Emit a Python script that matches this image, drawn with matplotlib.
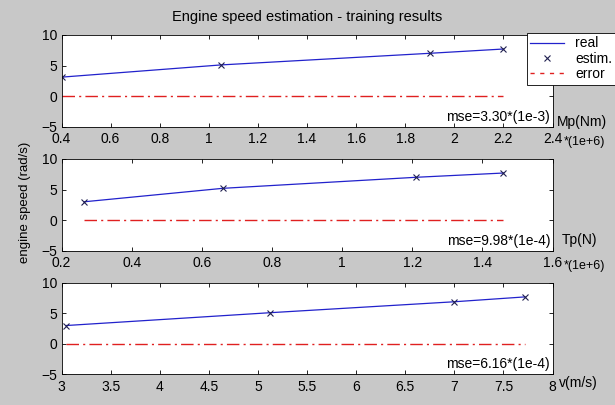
import numpy as np
import matplotlib
matplotlib.use("Agg")
import matplotlib.pyplot as plt
from matplotlib.lines import Line2D

plt.rcParams['font.family'] = ['Liberation Sans', 'DejaVu Sans']
plt.rcParams['font.size'] = 10

# datos
mp_x = [0.4, 1.05, 1.9, 2.2]
mp_y = [3.1, 5.1, 7.0, 7.7]
tp_x = [0.265, 0.66, 1.21, 1.46]
tp_y = [3.0, 5.2, 7.0, 7.7]
v_x = [3.05, 5.12, 7.0, 7.72]
v_y = [3.0, 5.1, 6.9, 7.7]
err = [0.0, 0.0, 0.0, 0.0]

mse_txt = ["mse=3.30*(1e-3)", "mse=9.98*(1e-4)", "mse=6.16*(1e-4)"]
xlab = ["Mp(Nm)", "Tp(N)", "v(m/s)"]
xlims = [(0.4, 2.4), (0.2, 1.6), (3, 8)]
xticks = [np.arange(0.4, 2.41, 0.2), np.arange(0.2, 1.61, 0.2), np.arange(3, 8.01, 0.5)]

bg = "#c8c8c8"
azul = "#2222cc"
rojo = "#e02020"
fig = plt.figure(figsize=(6.15, 4.05), dpi=100, facecolor=bg)

pos = [[0.100, 0.6872, 0.7984, 0.2265],
       [0.100, 0.3810, 0.7984, 0.2265],
       [0.100, 0.0760, 0.7984, 0.2255]]
datos = [(mp_x, mp_y), (tp_x, tp_y), (v_x, v_y)]

axs = []
for i in range(3):
    ax = fig.add_axes(pos[i])
    x, y = datos[i]
    l1, = ax.plot(x, y, color=azul, lw=0.9, label="real")
    l2, = ax.plot(x, y, "x", color="#202050", ms=4, mew=0.8, label="estim.")
    ax.plot(x, err, color=rojo, lw=1.0, ls=(0, (9, 3, 1.5, 3)))
    ax.set_xlim(xlims[i])
    ax.set_ylim(-5, 10)
    ax.set_yticks([-5, 0, 5, 10])
    ax.set_xticks(xticks[i])
    ax.set_xticklabels(["%g" % t for t in np.round(xticks[i], 2)])
    ax.tick_params(direction="in", top=True, right=True, length=3, width=0.6)
    ax.tick_params(axis="x", pad=4)
    ax.tick_params(axis="y", pad=3)
    for s in ax.spines.values():
        s.set_linewidth(0.6)
    ax.text(0.995, 0.03, mse_txt[i], transform=ax.transAxes, ha="right", va="bottom")
    axs.append(ax)

axs[0].text(1.008, 0.05, xlab[0], transform=axs[0].transAxes, ha="left", va="center")
axs[1].text(1.018, 0.12, xlab[1], transform=axs[1].transAxes, ha="left", va="center")
axs[2].text(1.014, -0.10, xlab[2], transform=axs[2].transAxes, ha="left", va="center")
axs[0].text(1.022, -0.165, "*(1e+6)", transform=axs[0].transAxes, ha="left", va="center", fontsize=9)
axs[1].text(1.022, -0.165, "*(1e+6)", transform=axs[1].transAxes, ha="left", va="center", fontsize=9)

# leyenda
h3 = Line2D([], [], color=rojo, lw=1.0, ls=(0, (3, 4)))
leg = fig.legend([l1, l2, h3], ["real", "estim.", "error"], loc="upper left",
                 bbox_to_anchor=(527 / 615, 1 - 33 / 405), frameon=True,
                 fancybox=False, edgecolor="black", framealpha=1,
                 handlelength=2.4, borderpad=0.25, labelspacing=0.1, handletextpad=0.8,
                 borderaxespad=0)
leg.get_frame().set_linewidth(0.6)

fig.suptitle("Engine speed estimation - training results", x=0.5, y=1 - 17 / 405, va="center", fontsize=10.5)
fig.text(0.04, 0.5, "engine speed (rad/s)", rotation=90, ha="center", va="center", fontsize=9.5)

fig.savefig("out.png", dpi=100, facecolor=bg)
